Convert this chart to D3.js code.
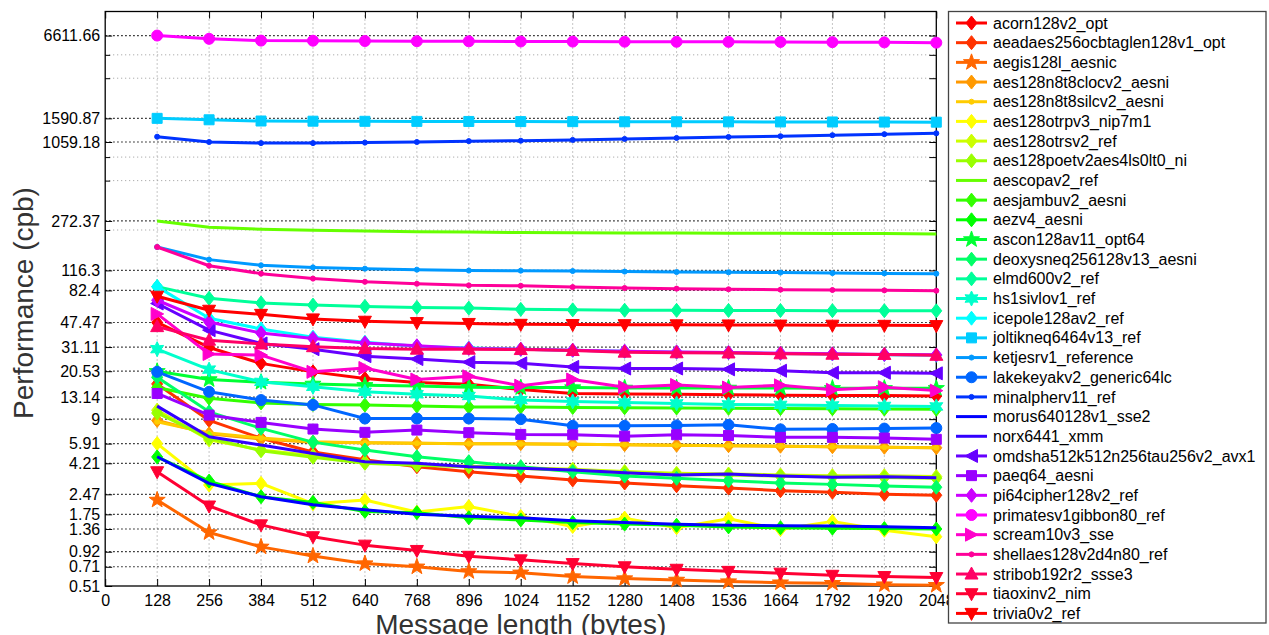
<!DOCTYPE html>
<html>
<head>
<meta charset="utf-8">
<script src="https://cdn.jsdelivr.net/npm/d3@7/dist/d3.min.js"></script>
<style>
  body { margin: 0; background: #fff; }
  text { font-family: "Liberation Sans", Arial, Helvetica, sans-serif; fill: #000; }
</style>
</head>
<body>
<svg id="chart" width="1269" height="635"></svg>
<script>
/*
 * Data
 *****************************/
const msgLengths = [128, 256, 384, 512, 640, 768, 896, 1024, 1152, 1280, 1408, 1536, 1664, 1792, 1920, 2048];
const xTicks = [0, 128, 256, 384, 512, 640, 768, 896, 1024, 1152, 1280, 1408, 1536, 1664, 1792, 1920, 2048];
const yTicks = [0.51, 0.71, 0.92, 1.36, 1.75, 2.47, 4.21, 5.91, 9, 13.14, 20.53, 31.11, 47.47, 82.4, 116.3, 272.37, 1059.18, 1590.87, 6611.66];
const yExtraGrid = [233, 545, 817, 3174, 4745];

const acorn128v2_opt = [47.5, 30.9, 23.5, 20.3, 18.1, 16.9, 16.4, 15.0, 14.0, 13.9, 13.8, 13.7, 13.6, 13.5, 13.5, 13.4];
const aeadaes256ocbtaglen128v1_opt = [16.5, 8.8, 6.48, 5.12, 4.48, 3.97, 3.64, 3.38, 3.16, 3.0, 2.86, 2.75, 2.63, 2.56, 2.47, 2.43];
const aegis128l_aesnic = [2.24, 1.28, 1.0, 0.855, 0.75, 0.71, 0.655, 0.64, 0.60, 0.58, 0.566, 0.55, 0.54, 0.535, 0.522, 0.517];
const aes128n8t8clocv2_aesni = [8.8, 7.0, 6.4, 6.06, 6.0, 5.95, 5.9, 5.9, 5.85, 5.8, 5.75, 5.7, 5.65, 5.6, 5.55, 5.5];
const aes128n8t8silcv2_aesni = [8.6, 7.1, 6.5, 6.1, 6.0, 5.95, 5.9, 5.88, 5.84, 5.8, 5.75, 5.7, 5.65, 5.6, 5.55, 5.5];
const aes128otrpv3_nip7m1 = [5.91, 2.9, 2.98, 2.1, 2.24, 1.82, 2.0, 1.69, 1.42, 1.64, 1.39, 1.62, 1.35, 1.55, 1.33, 1.19];
const aes128otrsv2_ref = [10.5, 6.3, 5.3, 4.8, 4.3, 4.1, 4.0, 3.9, 3.8, 3.65, 3.55, 3.5, 3.45, 3.4, 3.4, 3.35];
const aes128poetv2aes4ls0lt0_ni = [10.0, 6.5, 5.22, 4.68, 4.21, 4.07, 3.97, 3.86, 3.7, 3.58, 3.48, 3.45, 3.38, 3.33, 3.3, 3.26];
const aescopav2_ref = [272.37, 244, 236, 232, 229, 226, 225, 223, 222, 221, 221, 220, 220, 219, 219, 218];
const aesjambuv2_aesni = [15.5, 12.9, 11.9, 11.6, 11.46, 11.27, 11.1, 11.1, 11.0, 10.95, 10.9, 10.85, 10.8, 10.75, 10.7, 10.65];
const aezv4_aesni = [4.7, 3.1, 2.37, 2.15, 1.84, 1.8, 1.65, 1.59, 1.52, 1.48, 1.45, 1.41, 1.39, 1.38, 1.37, 1.36];
const ascon128av11_opt64 = [20.5, 17.8, 17.0, 16.5, 16.1, 15.9, 15.6, 15.5, 15.5, 15.4, 15.4, 15.4, 15.4, 15.3, 15.3, 15.3];
const deoxysneq256128v13_aesni = [18.5, 10.2, 7.68, 6.06, 5.29, 4.71, 4.33, 3.97, 3.64, 3.38, 3.25, 3.12, 3.0, 2.93, 2.85, 2.79];
const elmd600v2_ref = [88, 72, 66.4, 64, 62.6, 61.5, 60.8, 59.5, 59, 58.6, 58.5, 58.4, 58.3, 58.2, 58.1, 58];
const hs1sivlov1_ref = [30.0, 21.1, 17.1, 15.7, 14.4, 13.8, 13.4, 12.5, 12.2, 12.0, 11.8, 11.6, 11.5, 11.4, 11.3, 11.2];
const icepole128av2_ref = [88, 51, 42.5, 36.9, 33.8, 31.6, 30.6, 29.9, 29.4, 28.9, 28.5, 28.2, 27.9, 27.6, 27.3, 27.0];
const joltikneq6464v13_ref = [1590.87, 1552, 1520, 1515, 1512, 1510, 1508, 1505, 1503, 1500, 1500, 1498, 1496, 1495, 1493, 1490];
const ketjesrv1_reference = [174, 140, 127, 122.5, 119.8, 117.8, 116, 115.8, 115, 114, 113, 112.5, 112, 111, 110.5, 110];
const lakekeyakv2_generic64lc = [20.3, 14.4, 12.5, 11.5, 9.1, 9.1, 9.1, 9.0, 8.03, 8.03, 8.08, 8.16, 7.55, 7.6, 7.65, 7.72];
const minalpherv11_ref = [1160, 1059, 1039, 1039, 1048, 1059, 1075, 1083, 1098, 1117, 1136, 1155, 1170, 1191, 1212, 1230];
const morus640128v1_sse2 = [4.71, 2.98, 2.37, 2.06, 1.89, 1.75, 1.69, 1.65, 1.57, 1.52, 1.475, 1.45, 1.44, 1.43, 1.415, 1.39];
const norx6441_xmm = [11.26, 6.64, 5.76, 4.99, 4.33, 4.21, 3.97, 3.86, 3.75, 3.58, 3.44, 3.5, 3.38, 3.31, 3.34, 3.29];
const omdsha512k512n256tau256v2_avx1 = [65.8, 41.6, 33.1, 30.0, 26.6, 25.3, 24.0, 23.5, 22.1, 21.5, 21.5, 21.2, 20.7, 20.0, 20.0, 19.8];
const paeq64_aesni = [14.0, 9.65, 8.51, 7.59, 7.17, 7.46, 7.13, 6.92, 6.88, 6.72, 6.88, 6.8, 6.58, 6.58, 6.5, 6.36];
const pi64cipher128v2_ref = [69.6, 47.9, 39.6, 36.1, 33.4, 31.8, 30.4, 30.0, 29.5, 29.0, 28.6, 28.3, 28.0, 27.7, 27.4, 27.2];
const primatesv1gibbon80_ref = [6611.66, 6250, 6060, 6050, 6020, 6000, 5990, 5970, 5960, 5950, 5940, 5930, 5920, 5900, 5880, 5850];
const scream10v3_sse = [55, 27.6, 27.1, 20.3, 21.7, 17.8, 18.8, 16.0, 17.8, 15.6, 16.2, 15.5, 16.1, 14.9, 15.6, 14.7];
const shellaes128v2d4n80_ref = [174, 126, 110, 101, 95.6, 92.4, 89.9, 89.3, 87.3, 85.9, 85, 84, 83.5, 83, 82.5, 82];
const stribob192r2_ssse3 = [44.2, 35, 32.8, 31.3, 30.3, 30, 30, 29.8, 29.3, 28.5, 28.2, 28.1, 27.7, 27.5, 27.4, 27];
const tiaoxinv2_nim = [3.64, 2.02, 1.46, 1.19, 1.03, 0.94, 0.85, 0.80, 0.75, 0.71, 0.68, 0.656, 0.636, 0.613, 0.60, 0.59];
const trivia0v2_ref = [74.6, 58.6, 54.6, 50.5, 48.5, 47.4, 46.7, 46, 45.8, 45.7, 45.6, 45.5, 45.4, 45.3, 45.2, 45];

// name, values, marker ('' = plain line, '.' = small dot)
const series = [
  ["acorn128v2_opt", acorn128v2_opt, "d"],
  ["aeadaes256ocbtaglen128v1_opt", aeadaes256ocbtaglen128v1_opt, "d"],
  ["aegis128l_aesnic", aegis128l_aesnic, "p"],
  ["aes128n8t8clocv2_aesni", aes128n8t8clocv2_aesni, "d"],
  ["aes128n8t8silcv2_aesni", aes128n8t8silcv2_aesni, "."],
  ["aes128otrpv3_nip7m1", aes128otrpv3_nip7m1, "d"],
  ["aes128otrsv2_ref", aes128otrsv2_ref, "d"],
  ["aes128poetv2aes4ls0lt0_ni", aes128poetv2aes4ls0lt0_ni, "d"],
  ["aescopav2_ref", aescopav2_ref, ""],
  ["aesjambuv2_aesni", aesjambuv2_aesni, "d"],
  ["aezv4_aesni", aezv4_aesni, "d"],
  ["ascon128av11_opt64", ascon128av11_opt64, "p"],
  ["deoxysneq256128v13_aesni", deoxysneq256128v13_aesni, "d"],
  ["elmd600v2_ref", elmd600v2_ref, "d"],
  ["hs1sivlov1_ref", hs1sivlov1_ref, "h"],
  ["icepole128av2_ref", icepole128av2_ref, "d"],
  ["joltikneq6464v13_ref", joltikneq6464v13_ref, "s"],
  ["ketjesrv1_reference", ketjesrv1_reference, "."],
  ["lakekeyakv2_generic64lc", lakekeyakv2_generic64lc, "o"],
  ["minalpherv11_ref", minalpherv11_ref, "."],
  ["morus640128v1_sse2", morus640128v1_sse2, ""],
  ["norx6441_xmm", norx6441_xmm, ""],
  ["omdsha512k512n256tau256v2_avx1", omdsha512k512n256tau256v2_avx1, "<"],
  ["paeq64_aesni", paeq64_aesni, "s"],
  ["pi64cipher128v2_ref", pi64cipher128v2_ref, "d"],
  ["primatesv1gibbon80_ref", primatesv1gibbon80_ref, "o"],
  ["scream10v3_sse", scream10v3_sse, ">"],
  ["shellaes128v2d4n80_ref", shellaes128v2d4n80_ref, "."],
  ["stribob192r2_ssse3", stribob192r2_ssse3, "^"],
  ["tiaoxinv2_nim", tiaoxinv2_nim, "v"],
  ["trivia0v2_ref", trivia0v2_ref, "v"]
];

/*
 * Parameters
 *****************************/
const plotLeft = 105.2, plotRight = 936.3, plotTop = 11.5, plotBottom = 586;
const svg = d3.select("#chart");

const xScale = d3.scaleLinear().domain([0, 2048]).range([plotLeft, plotRight]);
const yScale = d3.scaleLog().domain([0.51, 10000]).range([plotBottom, plotTop]);

// hsv-like colours, 12 degrees apart
const colorOf = i => d3.hsl(i * 12, 1, 0.5).formatHex();

function starPath(points, rOut, rIn) {
  const pts = [];
  for (let k = 0; k < points * 2; k++) {
    const r = k % 2 === 0 ? rOut : rIn;
    const a = -Math.PI / 2 + k * Math.PI / points;
    pts.push([r * Math.cos(a), r * Math.sin(a)]);
  }
  return "M" + pts.map(p => p[0].toFixed(2) + "," + p[1].toFixed(2)).join("L") + "Z";
}

function markerPath(m) {
  switch (m) {
    case "d": return "M0,-7L5.5,0L0,7L-5.5,0Z";
    case "p": return starPath(5, 8.5, 3.4);
    case "h": return starPath(6, 7.5, 4);
    case "s": return "M-5,-5L5,-5L5,5L-5,5Z";
    case "o": return d3.symbol(d3.symbolCircle, 95)();
    case ".": return d3.symbol(d3.symbolCircle, 20)();
    case "<": return "M-6.5,0L6,-6.5L6,6.5Z";
    case ">": return "M6.5,0L-6,-6.5L-6,6.5Z";
    case "^": return "M0,-7L6.5,5L-6.5,5Z";
    case "v": return "M0,7L6.5,-5L-6.5,-5Z";
    default: return null;
  }
}

/*
 * Grid
 *****************************/
const grid = svg.append("g");
grid.selectAll("line.vgrid")
  .data(xTicks.filter(d => d > 0 && d < 2048))
  .join("line")
  .attr("x1", d => xScale(d)).attr("x2", d => xScale(d))
  .attr("y1", plotTop).attr("y2", plotBottom)
  .attr("stroke", "#8c8c8c").attr("stroke-width", 1).attr("stroke-dasharray", "1,3");

grid.selectAll("line.xgrid")
  .data(yExtraGrid)
  .join("line")
  .attr("x1", plotLeft).attr("x2", plotRight)
  .attr("y1", d => yScale(d)).attr("y2", d => yScale(d))
  .attr("stroke", "#9a9a9a").attr("stroke-width", 1).attr("stroke-dasharray", "1,3");

grid.selectAll("line.hgrid")
  .data(yTicks.filter(d => d > 0.51))
  .join("line")
  .attr("x1", plotLeft).attr("x2", plotRight)
  .attr("y1", d => yScale(d)).attr("y2", d => yScale(d))
  .attr("stroke", "#111").attr("stroke-width", 1.2).attr("stroke-dasharray", "1.5,2.5");

/*
 * Axes
 *****************************/
const allY = yTicks.concat(yExtraGrid);

svg.append("g")
  .attr("transform", `translate(${plotLeft},0)`)
  .call(d3.axisLeft(yScale).tickValues(yTicks).tickFormat(d => d).tickSize(-7).tickPadding(5))
  .call(g => g.select(".domain").remove())
  .call(g => g.selectAll("text").style("font-size", "16px").attr("font-family", null));

svg.append("g")
  .attr("transform", `translate(${plotLeft},0)`)
  .call(d3.axisLeft(yScale).tickValues(yExtraGrid).tickFormat("").tickSize(-5))
  .call(g => g.select(".domain").remove());

svg.append("g")
  .attr("transform", `translate(${plotRight},0)`)
  .call(d3.axisRight(yScale).tickValues(allY).tickFormat("").tickSize(-7))
  .call(g => g.select(".domain").remove());

svg.append("g")
  .attr("transform", `translate(0,${plotBottom})`)
  .call(d3.axisBottom(xScale).tickValues(xTicks).tickFormat(d => d).tickSize(-7).tickPadding(9))
  .call(g => g.select(".domain").remove())
  .call(g => g.selectAll("text").style("font-size", "16px").attr("font-family", null));

svg.append("g")
  .attr("transform", `translate(0,${plotTop})`)
  .call(d3.axisTop(xScale).tickValues(xTicks).tickFormat("").tickSize(-7))
  .call(g => g.select(".domain").remove());

svg.append("rect")
  .attr("x", plotLeft).attr("y", plotTop)
  .attr("width", plotRight - plotLeft).attr("height", plotBottom - plotTop)
  .attr("fill", "none").attr("stroke", "#000").attr("stroke-width", 1.3);

// axis titles (the x title runs off the bottom edge, as in the original figure)
svg.append("text")
  .attr("transform", "translate(33,303) rotate(-90)")
  .attr("text-anchor", "middle")
  .style("font-size", "28px")
  .style("fill", "#333")
  .text("Performance (cpb)");

svg.append("text")
  .attr("x", (plotLeft + plotRight) / 2)
  .attr("y", 634)
  .attr("text-anchor", "middle")
  .style("font-size", "28px")
  .style("fill", "#333")
  .text("Message length (bytes)");

/*
 * Series
 *****************************/
const line = d3.line()
  .x((d, i) => xScale(msgLengths[i]))
  .y(d => yScale(d));

const plotG = svg.append("g");
series.forEach(([name, values, marker], i) => {
  const col = colorOf(i);
  const g = plotG.append("g").attr("class", "series");
  g.append("path")
    .attr("d", line(values))
    .attr("fill", "none")
    .attr("stroke", col)
    .attr("stroke-width", 3)
    .attr("stroke-linejoin", "round");
  const mp = markerPath(marker);
  if (mp) {
    g.selectAll("path.mk")
      .data(values)
      .join("path")
      .attr("class", "mk")
      .attr("transform", (d, j) => `translate(${xScale(msgLengths[j])},${yScale(d)})`)
      .attr("d", mp)
      .attr("fill", col)
      .attr("stroke", col)
      .attr("stroke-width", 1);
  }
});

/*
 * Legend
 *****************************/
const legX = 948.5, legY = 11.5, legW = 317.5, legH = 611.5, rowStep = 19.68, row0 = 23;
const leg = svg.append("g");
leg.append("rect")
  .attr("x", legX).attr("y", legY).attr("width", legW).attr("height", legH)
  .attr("fill", "#fff").attr("stroke", "#444").attr("stroke-width", 1.3);

const rows = leg.selectAll("g.row")
  .data(series)
  .join("g")
  .attr("class", "row")
  .attr("transform", (d, i) => `translate(0,${row0 + i * rowStep})`);

rows.append("line")
  .attr("x1", 956).attr("x2", 987)
  .attr("y1", 0).attr("y2", 0)
  .attr("stroke", (d, i) => colorOf(i))
  .attr("stroke-width", 3);

rows.filter(d => markerPath(d[2]))
  .append("path")
  .attr("transform", "translate(971.5,0)")
  .attr("d", d => markerPath(d[2]))
  .attr("fill", d => colorOf(series.indexOf(d)))
  .attr("stroke", d => colorOf(series.indexOf(d)));

rows.append("text")
  .attr("x", 993)
  .attr("y", 5.6)
  .style("font-size", "16px")
  .text(d => d[0]);
</script>
</body>
</html>
